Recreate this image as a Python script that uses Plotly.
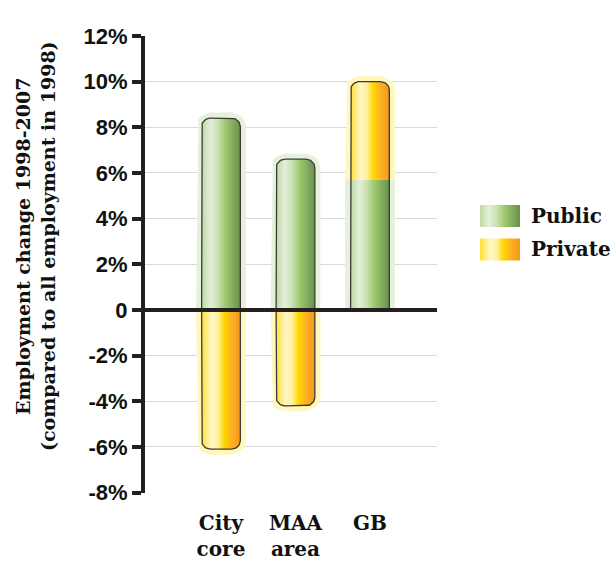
import numpy as np
import plotly.graph_objects as go

# ---------------- data ----------------
categories = ["City<br>core", "MAA<br>area", "GB"]
public = [8.4, 6.6, 5.7]
private = [-6.1, -4.2, 4.3]
y_tickvals = [-8, -6, -4, -2, 0, 2, 4, 6, 8, 10, 12]
y_ticktext = ["-8%", "-6%", "-4%", "-2%", "0", "2%", "4%", "6%", "8%", "10%", "12%"]
legend_names = ["Public", "Private"]

# ---------------- layout geometry ----------------
W, H = 616, 561
L, R, T, B = 145, 437, 25, 503
xr = [-1.02, 2.90]
yr = [-8, 12]
sx = (R - L) / (xr[1] - xr[0])
sy = (B - T) / (yr[1] - yr[0])
bar_w = 0.52
rad = 9

green_scale = [[0, '#bcd9a4'], [0.22, '#e4efda'], [0.4, '#cde3b6'],
               [0.62, '#9cc86c'], [0.8, '#84ad60'], [1, '#67904c']]
yellow_scale = [[0, '#ffe034'], [0.25, '#fff7c6'], [0.42, '#fff0a0'],
                [0.58, '#ffd800'], [0.78, '#fcb023'], [1, '#f5981c']]
green_glow = '#e6f1da'
yellow_glow = '#fff7bc'
outline = '#3a3a3a'


def bar_path(c, y0, y1, rounded, closed=True):
    s = 1 if y1 >= y0 else -1
    hw = bar_w / 2
    rx, ry = rad / sx, rad / sy
    xs, ys = [c - hw], [y0]
    if rounded:
        t = np.linspace(np.pi, np.pi / 2, 14)
        xs += list(c - hw + rx + rx * np.cos(t))
        ys += list(y1 - s * ry + s * ry * np.sin(t))
        t = np.linspace(np.pi / 2, 0, 14)
        xs += list(c + hw - rx + rx * np.cos(t))
        ys += list(y1 - s * ry + s * ry * np.sin(t))
    else:
        xs += [c - hw, c + hw]
        ys += [y1, y1]
    xs.append(c + hw)
    ys.append(y0)
    if closed:
        xs.append(c - hw)
        ys.append(y0)
    return xs, ys


# build segments from data
segments = []  # (center, y0, y1, rounded, scale, glow)
outlines = []  # (center, y0, y1, rounded)
for i, (pu, pr) in enumerate(zip(public, private)):
    if np.sign(pr) == np.sign(pu):
        segments.append((i, 0, pu, False, green_scale, green_glow))
        segments.append((i, pu, pu + pr, True, yellow_scale, yellow_glow))
        outlines.append((i, 0, pu + pr, True))
    else:
        segments.append((i, 0, pu, True, green_scale, green_glow))
        segments.append((i, 0, pr, True, yellow_scale, yellow_glow))
        outlines.append((i, 0, pu, True))
        outlines.append((i, 0, pr, True))

fig = go.Figure()

# glows
for c, y0, y1, rnd, scale, glow in segments:
    xs, ys = bar_path(c, y0, y1, rnd, closed=False)
    fig.add_trace(go.Scatter(x=xs, y=ys, mode='lines',
                             line=dict(color=glow, width=11),
                             hoverinfo='skip', showlegend=False))
# fills
for c, y0, y1, rnd, scale, glow in segments:
    xs, ys = bar_path(c, y0, y1, rnd, closed=True)
    fig.add_trace(go.Scatter(x=xs, y=ys, mode='lines', fill='toself',
                             fillgradient=dict(type='horizontal', colorscale=scale),
                             line=dict(color='rgba(0,0,0,0)', width=0),
                             hoverinfo='skip', showlegend=False))
# outlines
for c, y0, y1, rnd in outlines:
    xs, ys = bar_path(c, y0, y1, rnd, closed=False)
    fig.add_trace(go.Scatter(x=xs, y=ys, mode='lines',
                             line=dict(color=outline, width=1.3),
                             hoverinfo='skip', showlegend=False))

# legend swatches (pixel coordinate overlay axes)
sw = [(480, 520, 202, 225), (480, 520, 237, 260)]
for (x0, x1, y0, y1), scale in zip(sw, [green_scale, yellow_scale]):
    fig.add_trace(go.Scatter(x=[x0, x1, x1, x0, x0], y=[y0, y0, y1, y1, y0],
                             xaxis='x2', yaxis='y2', mode='lines', fill='toself',
                             fillgradient=dict(type='horizontal', colorscale=scale),
                             line=dict(color='rgba(0,0,0,0)', width=0),
                             hoverinfo='skip', showlegend=False))

serif = "DejaVu Serif"
annotations = []
for name, (x0, x1, y0, y1) in zip(legend_names, sw):
    annotations.append(dict(x=529 / W, y=1 - (y0 + y1) / 2 / H, xref='paper', yref='paper',
                            text=name, showarrow=False, xanchor='left', yanchor='middle',
                            font=dict(family=serif, size=20, color='#111', weight='bold')))
annotations.append(dict(x=35 / W, y=1 - 245 / H, xref='paper', yref='paper',
                        text="Employment change 1998-2007<br>(compared to all employment in 1998)",
                        showarrow=False, textangle=-90, xanchor='center', yanchor='middle',
                        font=dict(family=serif, size=19, color='#111', weight='bold')))

fig.update_layout(
    width=W, height=H,
    margin=dict(l=0, r=0, t=0, b=0),
    paper_bgcolor='white', plot_bgcolor='rgba(0,0,0,0)',
    showlegend=False,
    xaxis=dict(domain=[L / W, R / W], range=xr, tickvals=list(range(len(categories))),
               ticktext=categories, showgrid=False, zeroline=False, showline=False,
               ticks='', ticklabelstandoff=16,
               tickfont=dict(family=serif, size=20, color='#111', weight='bold'),
               fixedrange=True),
    yaxis=dict(domain=[1 - B / H, 1 - T / H], range=yr, tickvals=y_tickvals,
               ticktext=y_ticktext, showgrid=True, gridcolor='#d9d9d9', gridwidth=1,
               zeroline=False, showline=True, linewidth=4, linecolor='#231f20',
               ticks='outside', ticklen=9, tickwidth=4, tickcolor='#231f20',
               tickfont=dict(family="Liberation Sans", size=22, color='#111', weight='bold'),
               fixedrange=True),
    xaxis2=dict(domain=[0, 1], range=[0, W], anchor='y2', visible=False, fixedrange=True),
    yaxis2=dict(domain=[0, 1], range=[H, 0], anchor='x2', visible=False, fixedrange=True),
    shapes=[dict(type='line', xref='x domain', yref='y', x0=0, x1=1, y0=0, y1=0,
                 line=dict(color='#231f20', width=4), layer='above')],
    annotations=annotations,
)

fig.write_html("out.html")
